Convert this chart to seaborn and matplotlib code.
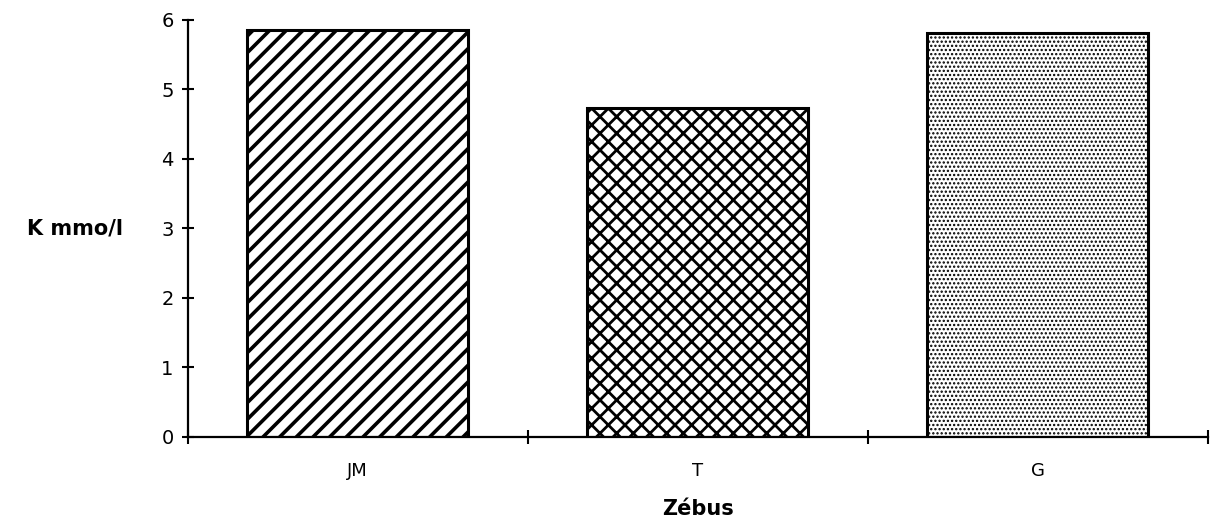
import matplotlib
matplotlib.use('Agg')
import matplotlib.pyplot as plt
import seaborn as sns
import pandas as pd

# data
zebus = ['JM', 'T', 'G']
k_mmol = [5.86, 4.73, 5.81]
hatches = ['//', 'xx', '....']
hatch_lw = [2.6, 2.0, 1.1]

sns.set_style('white')
plt.rcParams['font.family'] = ['DejaVu Sans']
plt.rcParams['text.color'] = 'black'
plt.rcParams['axes.labelcolor'] = 'black'
plt.rcParams['xtick.color'] = 'black'
plt.rcParams['ytick.color'] = 'black'

df = pd.DataFrame({'Zébus': zebus, 'K': k_mmol})

fig = plt.figure(figsize=(12.1, 5.3), dpi=100)
ax = fig.add_axes([0.155, 0.1755, 0.843, 0.787])

sns.barplot(data=df, x='Zébus', y='K', ax=ax, color='white',
            edgecolor='black', linewidth=2.2, width=0.65)

for bar, h, lw in zip(ax.patches, hatches, hatch_lw):
    bar.set_hatch(h)
    if hasattr(bar, 'set_hatch_linewidth'):
        bar.set_hatch_linewidth(lw)

ax.set_xlim(-0.5, 2.5)
ax.set_ylim(0, 6)
ax.set_yticks(range(0, 7))

sns.despine(ax=ax)
for s in ['left', 'bottom']:
    ax.spines[s].set_linewidth(1.6)
    ax.spines[s].set_color('black')

ax.tick_params(axis='y', direction='inout', length=8, width=1.5,
               labelsize=14, left=True, pad=6)
ax.tick_params(axis='x', which='major', length=0, labelsize=13, pad=18)
ax.set_xticks([-0.5, 0.5, 1.5, 2.5], minor=True)
ax.tick_params(axis='x', which='minor', direction='inout', length=10,
               width=1.5, bottom=True)

ax.set_xlabel('Zébus', fontsize=15, fontweight='bold', labelpad=14)
ax.set_ylabel('K mmo/l', fontsize=15, fontweight='bold', rotation=0,
              labelpad=0)
ax.yaxis.set_label_coords(-0.11, 0.5)
ax.yaxis.label.set_verticalalignment('center')

fig.savefig('out.png', dpi=100)
